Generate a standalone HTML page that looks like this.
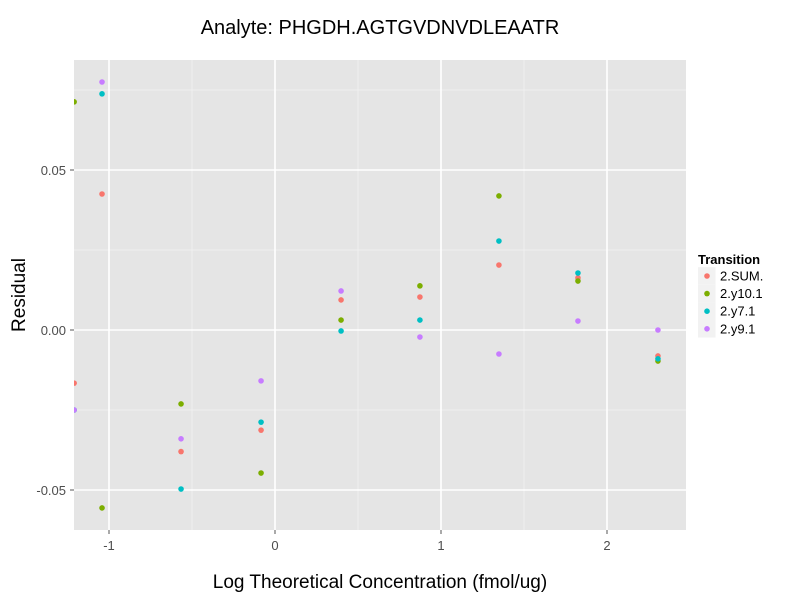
<!DOCTYPE html>
<html><head><meta charset="utf-8"><style>
body{margin:0;background:#fff;}
text{font-family:"Liberation Sans",sans-serif;}
</style></head><body>
<svg id="chart" width="800" height="600">
<rect x="0" y="0" width="800" height="600" fill="#fff"/>
<defs><clipPath id="clip"><rect x="74" y="60" width="612" height="470"/></clipPath></defs>
<rect x="74" y="60" width="612" height="470" fill="#e5e5e5"/>
<g id="grid"></g>
<g id="points" clip-path="url(#clip)"></g>
<g id="axes"></g>
<text x="380" y="34" font-size="20" text-anchor="middle">Analyte: PHGDH.AGTGVDNVDLEAATR</text>
<text x="380" y="588" font-size="19" text-anchor="middle">Log Theoretical Concentration (fmol/ug)</text>
<text transform="translate(25,295) rotate(-90)" font-size="19" text-anchor="middle">Residual</text>
<g id="legend">
<text x="698" y="264" font-size="13" font-weight="bold">Transition</text>
</g>
</svg>
<script>
const xValues = [-1.21, -1.042, -0.566, -0.084, 0.398, 0.873, 1.349, 1.825, 2.307];
const seriesNames = ["2.SUM.", "2.y10.1", "2.y7.1", "2.y9.1"];
const sumValues = [-0.0166, 0.0425, -0.038, -0.0313, 0.0094, 0.0103, 0.0203, 0.0163, -0.0081];
const y10Values = [0.0713, -0.0556, -0.0231, -0.0447, 0.0031, 0.0138, 0.0419, 0.0153, -0.0097];
const y7Values = [-0.025, 0.0738, -0.0497, -0.0288, -0.0003, 0.0031, 0.0278, 0.0178, -0.009];
const y9Values = [-0.025, 0.0775, -0.034, -0.0159, 0.0122, -0.0022, -0.0075, 0.0028, 0.0];
const xTicks = [-1, 0, 1, 2];
const xTickLabels = ["-1", "0", "1", "2"];
const yTicks = [-0.05, 0, 0.05];
const yTickLabels = ["-0.05", "0.00", "0.05"];
const colors = ["#F8766D", "#7CAE00", "#00BFC4", "#C77CFF"];
const allSeries = [sumValues, y10Values, y7Values, y9Values];
const NS = "http://www.w3.org/2000/svg";
const sx = v => 275 + (v) * 166;
const sy = v => 330 - v * 3200;
function mk(tag, attrs, parent){const e=document.createElementNS(NS,tag);for(const k in attrs)e.setAttribute(k,attrs[k]);parent.appendChild(e);return e;}
const grid=document.getElementById('grid'), axes=document.getElementById('axes'), pts=document.getElementById('points'), leg=document.getElementById('legend');
[-0.5,0.5,1.5].forEach(v=>{const l=mk('line',{x1:sx(v),x2:sx(v),y1:60,y2:530,stroke:'#f2f2f2','stroke-width':0.8},grid);

});
[-0.025,0.025,0.075].forEach(v=>{const l=mk('line',{x1:74,x2:686,y1:sy(v),y2:sy(v),stroke:'#f2f2f2','stroke-width':0.8},grid);

});
xTicks.forEach((v,i)=>{const l=mk('line',{x1:sx(v),x2:sx(v),y1:60,y2:530,stroke:'#fff','stroke-width':1.6},grid);


const t=mk('line',{x1:sx(v),x2:sx(v),y1:530,y2:534,stroke:'#555','stroke-width':1},axes);


const tx=mk('text',{x:sx(v),y:550,'font-size':13,fill:'#4d4d4d','text-anchor':'middle'},axes);tx.textContent=xTickLabels[i];

});
yTicks.forEach((v,i)=>{const l=mk('line',{x1:74,x2:686,y1:sy(v),y2:sy(v),stroke:'#fff','stroke-width':1.6},grid);


const t=mk('line',{x1:70,x2:74,y1:sy(v),y2:sy(v),stroke:'#555','stroke-width':1},axes);


const tx=mk('text',{x:66,y:sy(v)+5,'font-size':13,fill:'#4d4d4d','text-anchor':'end'},axes);tx.textContent=yTickLabels[i];

});
allSeries.forEach((s,si)=>{s.forEach((v,i)=>{const c=mk('circle',{cx:sx(xValues[i]),cy:sy(v),r:2.8,fill:colors[si]},pts);

});
const y=276+si*17.6;
const k=mk('rect',{x:698,y:y-8.8,width:17.6,height:17.6,fill:'#f2f2f2'},leg);


const d=mk('circle',{cx:707,cy:y,r:2.8,fill:colors[si]},leg);


const t=mk('text',{x:720,y:y+4.5,'font-size':13,fill:'#000'},leg);t.textContent=seriesNames[si];

});
</script>
</body></html>
